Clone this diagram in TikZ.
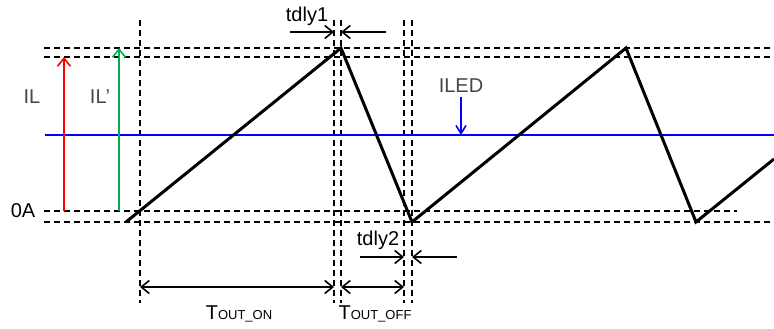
\documentclass[tikz,border=0pt]{standalone}
\usepackage{fontspec}
\setmainfont{Liberation Sans}
\definecolor{ilRed}{RGB}{255,0,0}
\definecolor{ilGreen}{RGB}{0,176,80}
\definecolor{ledBlue}{RGB}{0,0,255}
\definecolor{lblGray}{RGB}{70,70,70}
\usetikzlibrary{arrows.meta, positioning}

\begin{document}
\begin{tikzpicture}[x=1pt, y=-1pt,
    guide/.style={line width=1.5pt, dash pattern=on 6pt off 4pt},
    wave/.style={line width=3pt, line join=miter},
    arr/.style={-{Straight Barb[length=8pt, width=13pt]}, line width=1.6pt},
    dim/.style={{Straight Barb[length=8pt, width=13pt]}-{Straight Barb[length=8pt, width=13pt]}, line width=1.6pt},
    lbl/.style={font=\fontsize{20}{22}\selectfont, inner sep=0pt}
  ]
    \useasboundingbox (0,0) rectangle (774,329);

    % guide lines
    \draw[guide] (44,48) -- (774,48);
    \draw[guide] (44,57) -- (774,57);
    \draw[guide] (44,211) -- (737,211);
    \draw[guide] (44,222) -- (774,222);
    \foreach \x in {140,334,341,404,412}
      \draw[guide] (\x,20) -- (\x,303);

    % LED current level
    \draw[ledBlue, line width=1.6pt] (45,135) -- (774,135);

    % inductor current
    \coordinate (w0) at (126,222);
    \coordinate (w1) at (341,48);
    \coordinate (w2) at (412,222);
    \coordinate (w3) at (626,48);
    \coordinate (w4) at (696,222);
    \coordinate (w5) at (774,159);
    \draw[wave] (w0) -- (w1) -- (w2) -- (w3) -- (w4) -- (w5);

    % ripple arrows
    \coordinate (ilLow) at (64,211);
    \coordinate (ilHigh) at (64,57);
    \coordinate (ipLow) at (119,211);
    \coordinate (ipHigh) at (119,48);
    \draw[arr, ilRed] (ilLow) -- (ilHigh);
    \draw[arr, ilGreen] (ipLow) -- (ipHigh);

    \node[lbl, text=lblGray] (il) at (32,97) {IL};
    \node[lbl, text=lblGray] (ilp) at (100,97) {IL’};
    \node[lbl] (zero) at (23,211) {0A};

    \node[lbl, text=lblGray] (iled) at (461,86) {ILED};
    \coordinate (ledTop) at (461,97);
    \coordinate (ledHit) at (461,135);
    \draw[arr, ledBlue, -{Straight Barb[length=8pt, width=10pt]}] (ledTop) -- (ledHit);

    % delay markers
    \coordinate (d1a) at (290,32);
    \coordinate (d1b) at (334,32);
    \coordinate (d1c) at (386,32);
    \coordinate (d1d) at (341,32);
    \draw[arr] (d1a) -- (d1b);
    \draw[arr] (d1c) -- (d1d);
    \node[lbl] (tdlyA) at (307,16) {tdly1};

    \coordinate (d2a) at (360,257);
    \coordinate (d2b) at (404,257);
    \coordinate (d2c) at (457,257);
    \coordinate (d2d) at (412,257);
    \draw[arr] (d2a) -- (d2b);
    \draw[arr] (d2c) -- (d2d);
    \node[lbl] (tdlyB) at (378,240) {tdly2};

    % on / off times
    \coordinate (onA) at (140,287);
    \coordinate (onB) at (334,287);
    \coordinate (offA) at (341,287);
    \coordinate (offB) at (404,287);
    \draw[dim] (onA) -- (onB);
    \draw[dim] (offA) -- (offB);
    \node[lbl] (ton) at (239,314) {T{\fontsize{13}{15}\selectfont OUT\_ON}};
    \node[lbl] (toff) at (375,314) {T{\fontsize{13}{15}\selectfont OUT\_OFF}};
\end{tikzpicture}
\end{document}
